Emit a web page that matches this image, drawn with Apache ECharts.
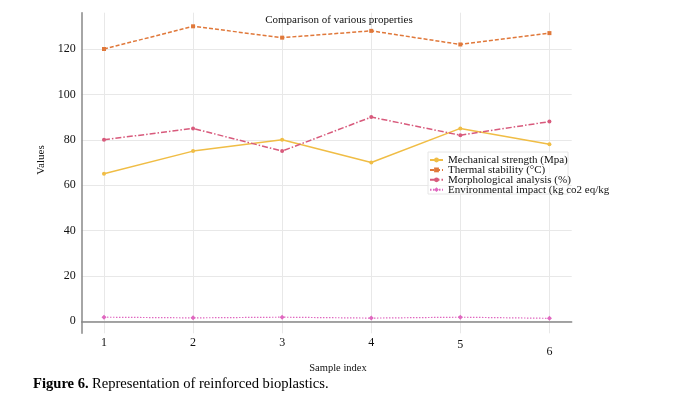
<!DOCTYPE html>
<html><head><meta charset="utf-8">
<script src="https://cdn.jsdelivr.net/npm/echarts@6/dist/echarts.min.js"></script>
<style>html,body{margin:0;padding:0;background:#fff}#c{width:683px;height:402px}</style>
</head><body><div id="c"></div>
<script>
const sampleIndex = [1, 2, 3, 4, 5, 6];
const mechanical = [65, 75, 80, 70, 85, 78];
const thermal = [120, 130, 125, 128, 122, 127];
const morphological = [80, 85, 75, 90, 82, 88];
const environmental = [1.8, 1.5, 1.8, 1.4, 1.8, 1.3];
const yTicks = [0, 20, 40, 60, 80, 100, 120];
const seriesNames = ['Mechanical strength (Mpa)', 'Thermal stability (°C)', 'Morphological analysis (%)', 'Environmental impact (kg co2 eq/kg'];

const F = 'Liberation Serif, Times New Roman, serif';
const pair = arr => sampleIndex.map((x, i) => [x, arr[i]]);
const chart = echarts.init(document.getElementById('c'));
chart.setOption({
  animation: false,
  backgroundColor: '#fff',
  textStyle: { fontFamily: F },
  title: {
    text: 'Comparison of various properties', left: 334, top: 10, textAlign: 'center',
    textStyle: { fontFamily: F, fontSize: 11, fontWeight: 'normal', color: '#111' }
  },
  grid: { left: 81.7, right: 111.3, top: 12.7, bottom: 68.7 },
  legend: {
    orient: 'vertical', left: 429, top: 154.5, itemWidth: 13, itemHeight: 6, itemGap: -1.1,
    padding: 0, data: seriesNames,
    textStyle: { fontFamily: F, fontSize: 11, color: '#111' }
  },
  xAxis: {
    type: 'value', min: 0.75, max: 6.25,
    axisLine: { show: true, lineStyle: { color: '#888', width: 1.5 } },
    axisTick: { show: false, customValues: sampleIndex },
    axisLabel: {
      customValues: sampleIndex, margin: 4, color: '#111', fontFamily: F, fontSize: 12,
      formatter: v => v === 6 ? '{b|6}' : (v === 5 ? '{c|5}' : String(v)),
      rich: { b: { padding: [9, 0, 0, 0], fontFamily: F, fontSize: 12, color: '#111' }, c: { padding: [2, 0, 0, 0], fontFamily: F, fontSize: 12, color: '#111' } }
    },
    splitLine: { show: true, lineStyle: { color: '#e8e8e8', width: 1 } }
  },
  yAxis: {
    type: 'value', min: -5.3, max: 136,
    axisLine: { show: true, lineStyle: { color: '#888', width: 1.5 } },
    axisTick: { show: false, customValues: yTicks },
    axisLabel: { customValues: yTicks, margin: 6, color: '#111', fontFamily: F, fontSize: 12 },
    splitLine: { show: true, lineStyle: { color: '#e8e8e8', width: 1 } }
  },
  graphic: [
    { type: 'rect', shape: { x: 428, y: 152, width: 140, height: 42 }, style: { fill: 'rgba(255,255,255,0.6)', stroke: '#e6e6e6', lineWidth: 1 }, z: 1 },
    { type: 'text', x: 41, y: 160, rotation: Math.PI / 2, style: { text: 'Values', fontFamily: F, fontSize: 11, fill: '#111', align: 'center', verticalAlign: 'middle' } },
    { type: 'text', x: 338, y: 368, style: { text: 'Sample index', fontFamily: F, fontSize: 10.5, fill: '#111', align: 'center', verticalAlign: 'middle' } },
    { type: 'text', x: 33, y: 384, style: {
        text: '{b|Figure 6.} {n|Representation of reinforced bioplastics.}', verticalAlign: 'middle',
        rich: { b: { fontFamily: F, fontSize: 14.6, fontWeight: 'bold', fill: '#000' }, n: { fontFamily: F, fontSize: 14.6, fill: '#000' } } } }
  ],
  series: [
    { name: seriesNames[0], type: 'line', data: pair(mechanical), symbol: 'circle', symbolSize: 4,
      itemStyle: { color: '#f0bd45' }, lineStyle: { color: '#f0bd45', width: 1.5, type: 'solid' }, z: 3 },
    { name: seriesNames[1], type: 'line', data: pair(thermal), symbol: 'rect', symbolSize: 4,
      itemStyle: { color: '#e0783a' }, lineStyle: { color: '#e0783a', width: 1.5, type: [4, 2] }, z: 3 },
    { name: seriesNames[2], type: 'line', data: pair(morphological), symbol: 'circle', symbolSize: 4,
      itemStyle: { color: '#d85a7c' }, lineStyle: { color: '#d85a7c', width: 1.5, type: [6, 2, 1.5, 2] }, z: 3 },
    { name: seriesNames[3], type: 'line', data: pair(environmental), symbol: 'diamond', symbolSize: 5,
      itemStyle: { color: '#e068c0' }, lineStyle: { color: '#e068c0', width: 1.2, type: [1.5, 1.5] }, z: 3 }
  ]
});
</script></body></html>
